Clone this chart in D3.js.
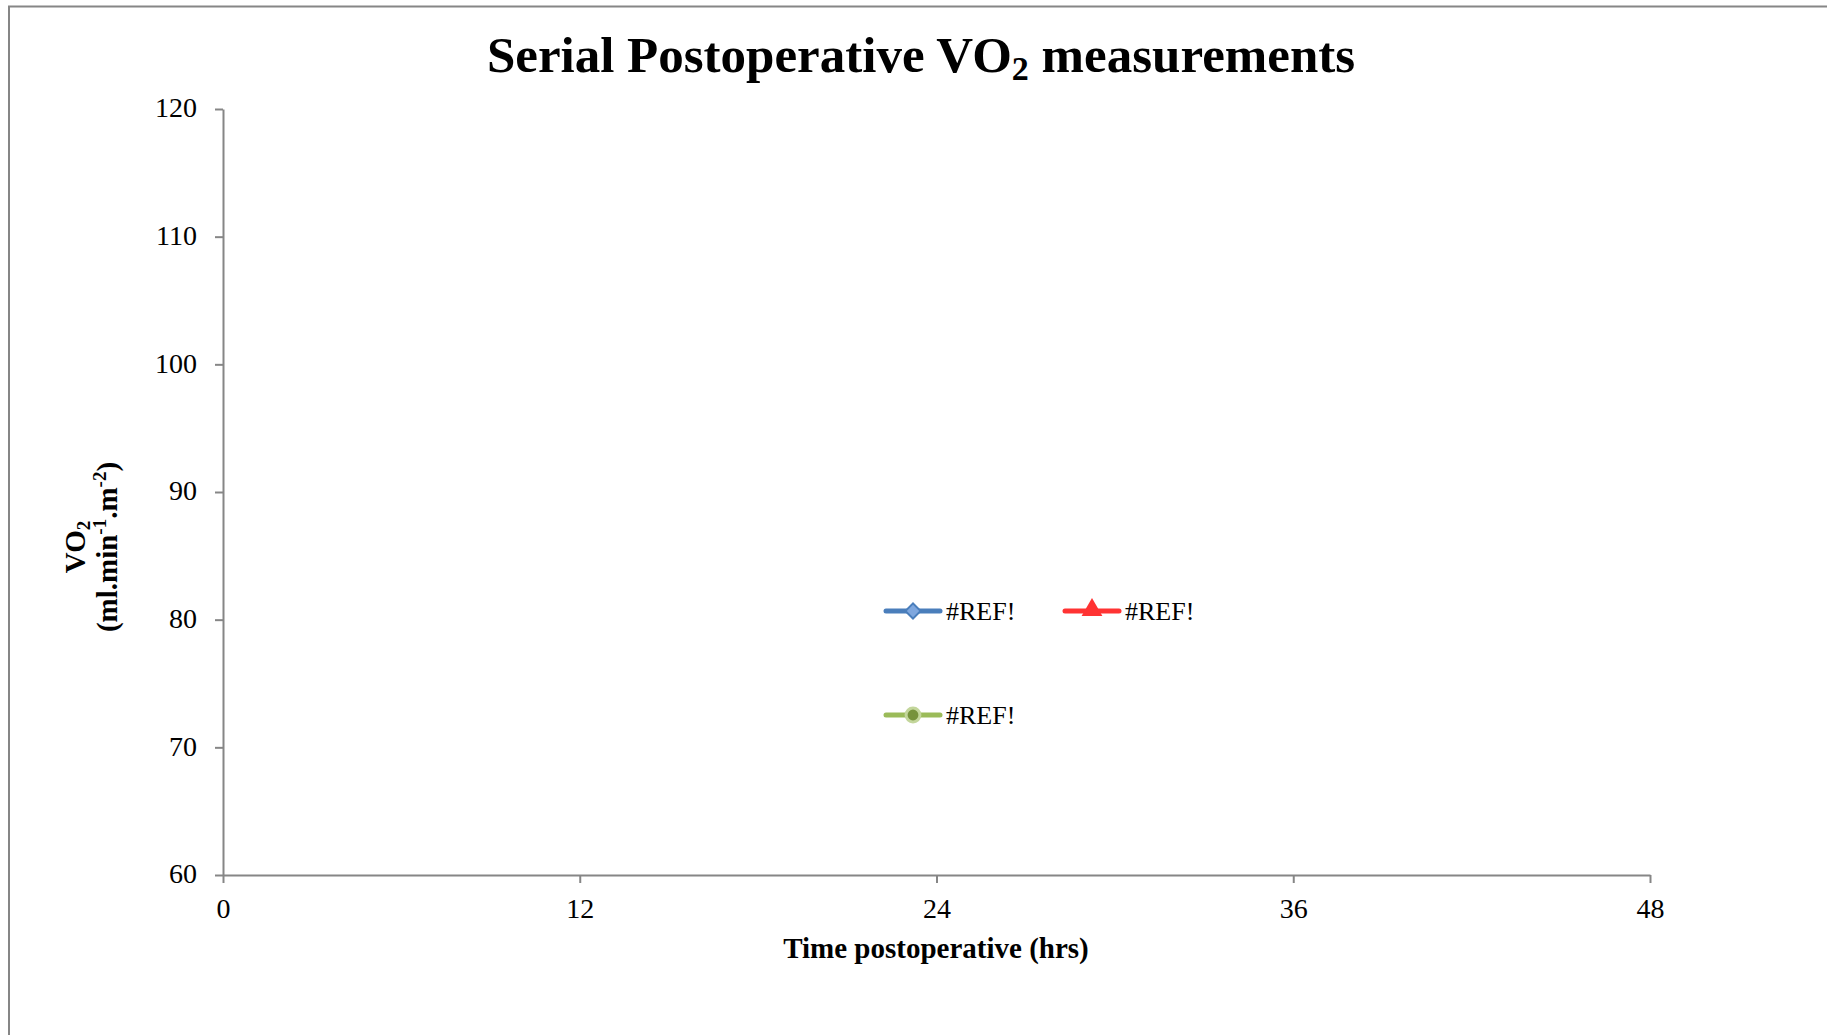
<!DOCTYPE html>
<html>
<head>
<meta charset="utf-8">
<script src="https://cdn.jsdelivr.net/npm/d3@7/dist/d3.min.js"></script>
<style>
  html, body { margin: 0; padding: 0; background: #fff; }
  svg { display: block; }
  text { font-family: "Liberation Serif", "DejaVu Serif", serif; fill: #000; }
</style>
</head>
<body>
<svg id="chart" width="1827" height="1035"></svg>
<script>
// Axis ranges and tick values
const xTicks = [0, 12, 24, 36, 48];
const yTicks = [60, 70, 80, 90, 100, 110, 120];

// Series (the source cells are broken references, so no points are plotted)
const seriesNames = ["#REF!", "#REF!", "#REF!"];
const seriesColors = ["#4a7ebb", "#ff3333", "#9bbb59"];
const seriesMarkers = ["diamond", "triangle", "circle"];
const seriesValues = [[], [], []];   // [hours, VO2] pairs

const svg = d3.select("#chart");
const W = 1827, H = 1035;
const m = { left: 223, right: W - 1650, top: 109, bottom: H - 875 };

// Outer chart frame
svg.append("rect")
  .attr("x", 9).attr("y", 6.5)
  .attr("width", W + 10).attr("height", H + 10)
  .attr("fill", "#fff").attr("stroke", "#868686").attr("stroke-width", 2);

const x = d3.scaleLinear().domain([0, 48]).range([m.left, W - m.right]);
const y = d3.scaleLinear().domain([60, 120]).range([H - m.bottom, m.top]);

// Title
const title = svg.append("text")
  .attr("x", 921).attr("y", 72)
  .attr("text-anchor", "middle")
  .attr("font-weight", "bold")
  .attr("font-size", 51);
title.append("tspan").text("Serial Postoperative VO");
title.append("tspan").attr("font-size", 34).attr("dy", 8).text("2");
title.append("tspan").attr("dy", -8).text(" measurements");

// Axes
const xAxis = d3.axisBottom(x).tickValues(xTicks).tickSize(8).tickSizeOuter(0).tickPadding(15);
const yAxis = d3.axisLeft(y).tickValues(yTicks).tickSize(8).tickSizeOuter(0).tickPadding(18);

const gx = svg.append("g").attr("transform", `translate(0,${y(60)})`).call(xAxis);
const gy = svg.append("g").attr("transform", `translate(${x(0)},0)`).call(yAxis);

[gx, gy].forEach(g => {
  g.select(".domain").attr("stroke", "#868686").attr("stroke-width", 2);
  g.selectAll(".tick line").attr("stroke", "#868686").attr("stroke-width", 2);
  g.selectAll(".tick text")
    .attr("font-family", "Liberation Serif, DejaVu Serif, serif")
    .attr("font-size", 28).attr("fill", "#000");
});
gy.selectAll(".tick text").attr("dy", "0.28em");
gx.selectAll(".tick text").attr("dy", "0.72em");

// Axis titles
svg.append("text")
  .attr("x", 936).attr("y", 958)
  .attr("text-anchor", "middle")
  .attr("font-weight", "bold").attr("font-size", 29)
  .text("Time postoperative (hrs)");

const yt = svg.append("g").attr("transform", "translate(0,547) rotate(-90)");
const l1 = yt.append("text").attr("x", 0).attr("y", 85)
  .attr("text-anchor", "middle").attr("font-weight", "bold").attr("font-size", 29);
l1.append("tspan").text("VO");
l1.append("tspan").attr("font-size", 19).attr("dy", 5).text("2");
const l2 = yt.append("text").attr("x", 0).attr("y", 117)
  .attr("text-anchor", "middle").attr("font-weight", "bold").attr("font-size", 29);
l2.append("tspan").text("(ml.min");
l2.append("tspan").attr("font-size", 19).attr("dy", -11).text("-1");
l2.append("tspan").attr("dy", 11).text(".m");
l2.append("tspan").attr("font-size", 19).attr("dy", -11).text("-2");
l2.append("tspan").attr("dy", 11).text(")");

// Series lines (empty)
const line = d3.line().x(d => x(d[0])).y(d => y(d[1]));
seriesValues.forEach((vals, i) => {
  svg.append("path").datum(vals)
    .attr("fill", "none").attr("stroke", seriesColors[i]).attr("stroke-width", 4)
    .attr("d", line);
});

// Legend
const legendPos = [[886, 611], [1065, 611], [886, 715]];
const markerFill = ["#7fa7de", "#ff3333", "#77933c"];
const markerStroke = ["#4a7ebb", "#ff3333", "#c3d69b"];
seriesNames.forEach((name, i) => {
  const [lx, ly] = legendPos[i];
  const g = svg.append("g").attr("transform", `translate(${lx},${ly})`);
  g.append("line").attr("x1", 0).attr("x2", 54).attr("y1", 0).attr("y2", 0)
    .attr("stroke", seriesColors[i]).attr("stroke-width", 5).attr("stroke-linecap", "round");
  const kind = seriesMarkers[i];
  const mk = g.append("path")
    .attr("fill", markerFill[i]).attr("stroke", markerStroke[i]).attr("stroke-width", 2);
  if (kind === "diamond") {
    mk.attr("d", d3.symbol().type(d3.symbolSquare).size(115)())
      .attr("transform", "translate(27,0) rotate(45)");
  } else if (kind === "triangle") {
    mk.attr("d", d3.symbol().type(d3.symbolTriangle).size(130)())
      .attr("transform", "translate(27,-1)");
  } else {
    mk.attr("d", d3.symbol().type(d3.symbolCircle).size(150)())
      .attr("transform", "translate(27,0)").attr("stroke-width", 3);
  }
  g.append("text").attr("x", 60).attr("y", 9)
    .attr("font-size", 26).text(name);
});
</script>
</body>
</html>
